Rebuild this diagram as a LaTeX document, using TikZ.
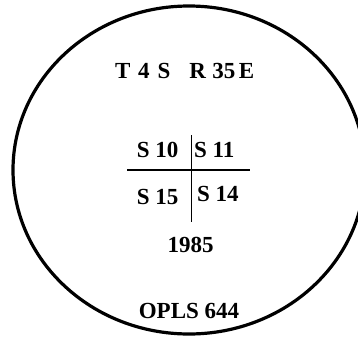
\documentclass[tikz,border=0pt]{standalone}
\usepackage{fontspec}
\setmainfont{Liberation Serif}
\begin{document}
\begin{tikzpicture}[x=1pt,y=-1pt,
  lbl/.style={inner sep=0pt,font=\fontsize{23}{27}\selectfont\bfseries},
  rule/.style={line width=1.3pt}]
\useasboundingbox (0,0) rectangle (358,340);
\draw[line width=3.2pt] (189,170) ellipse [x radius=176, y radius=164];
\node[lbl,anchor=base west] (top) at (115,78) {T\hspace{7.5pt}4\hspace{8pt}S\hspace{19pt}R\hspace{6.5pt}35\hspace{3.5pt}E};
\node[lbl,anchor=base east] (s10) at (178.5,157) {S 10};
\node[lbl,anchor=base west] (s11) at (194,157) {S 11};
\node[lbl,anchor=base east] (s15) at (178.5,204) {S 15};
\node[lbl,anchor=base west] (s14) at (197,201) {S 14};
\node[lbl,anchor=base] (yr) at (190.5,252) {1985};
\node[lbl,anchor=base] (opls) at (189,318) {OPLS 644};
\coordinate (vt) at (191.7,135);
\coordinate (vb) at (191.7,222);
\coordinate (hl) at (127,170);
\coordinate (hr) at (250,170);
\draw[rule] (vt) -- (vb);
\draw[rule] (hl) -- (hr);
\end{tikzpicture}
\end{document}
